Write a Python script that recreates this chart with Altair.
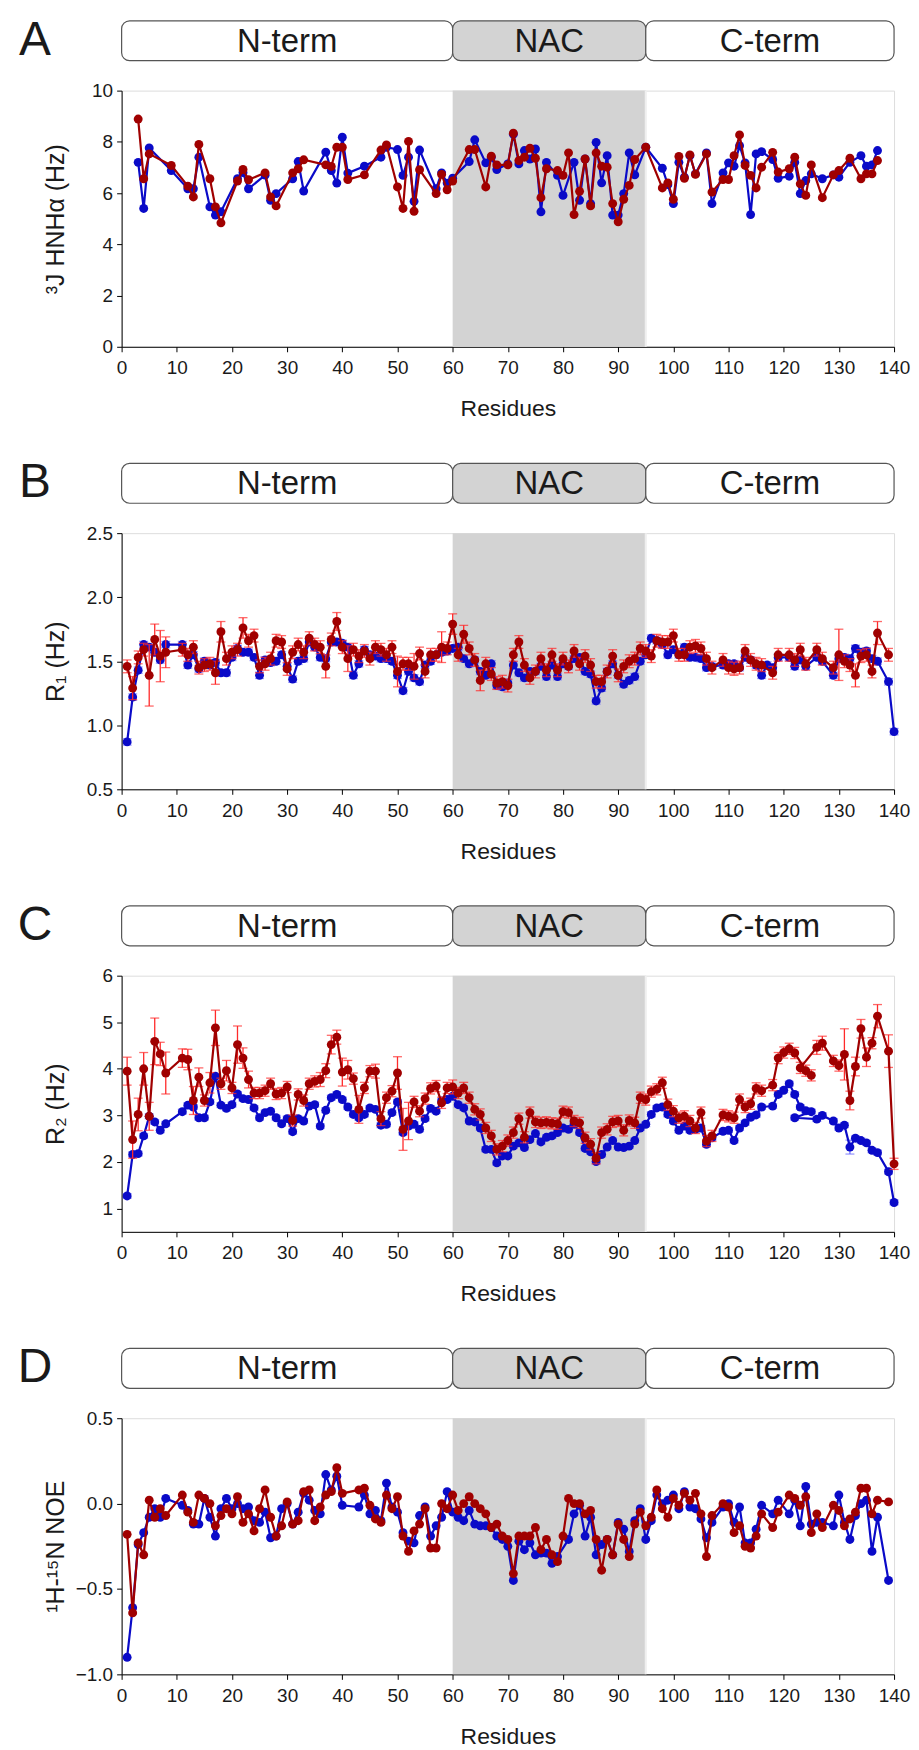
import altair as alt
import pandas as pd

# ---------------- data ----------------
domain_names = ["N-term", "NAC", "C-term"]
domain_start = [0, 60, 95]
domain_end = [60, 95, 140]
domain_fill = ["#ffffff", "#d3d3d3", "#ffffff"]
nac_region = [60, 95]
x_ticks = list(range(0, 141, 10))

# Panel A: 3J HNHa (Hz)
a_blue = [(3,7.2),(4,5.4),(5,7.76),(9,6.88),(12,6.17),(13,6.17),(14,7.4),(16,5.46),(17,5.14),(18,5.27),
          (21,6.56),(22,6.8),(23,6.17),(26,6.7),(27,5.72),(28,5.98),(31,6.56),(32,7.23),(33,6.08),(37,7.6),
          (38,6.88),(39,6.39),(40,8.18),(41,6.78),(44,7.05),(47,7.4),(48,7.79),(50,7.7),(51,6.69),(52,7.4),
          (53,5.68),(54,7.68),(57,6.17),(58,6.79),(59,6.39),(60,6.58),(63,7.23),(64,8.08),(66,7.18),(67,7.4),
          (68,6.92),(70,7.14),(71,8.3),(72,7.14),(73,7.66),(74,7.33),(75,7.72),(76,5.27),(77,7.2),(79,6.69),
          (80,5.91),(82,7.2),(83,5.72),(84,7.33),(85,5.59),(86,7.98),(87,6.4),(88,7.46),(89,5.14),(90,5.14),
          (91,5.98),(92,7.57),(93,6.71),(95,7.79),(98,6.97),(99,6.33),(100,5.59),(101,7.2),(102,6.62),(103,7.46),
          (104,6.75),(106,7.57),(107,5.59),(109,6.79),(110,7.18),(111,7.05),(112,7.85),(113,7.18),(114,5.16),
          (115,7.53),(116,7.62),(118,7.31),(119,6.58),(121,6.66),(122,7.2),(123,5.98),(124,6.49),(125,6.75),
          (127,6.56),(129,6.71),(130,6.62),(132,7.2),(134,7.46),(135,7.05),(136,7.1),(137,7.66)]
a_red = [(3,8.89),(4,6.56),(5,7.53),(9,7.08),(12,6.27),(13,5.85),(14,7.9),(16,6.56),(17,5.46),(18,4.84),
         (21,6.47),(22,6.92),(23,6.52),(26,6.79),(27,5.85),(28,5.5),(31,6.79),(32,6.95),(33,7.3),(37,7.1),
         (38,7.04),(39,7.79),(40,7.79),(41,6.53),(44,6.71),(47,7.68),(48,7.88),(50,6.24),(51,5.4),(52,8.02),
         (53,5.29),(54,6.91),(57,5.98),(58,6.73),(59,6.13),(60,6.47),(63,7.7),(64,7.7),(66,6.24),(67,7.44),
         (68,7.1),(70,7.1),(71,8.34),(72,7.27),(73,7.4),(74,7.75),(75,7.36),(76,5.82),(77,6.95),(79,6.88),
         (80,6.69),(81,7.57),(82,5.16),(83,6.07),(84,7.33),(85,5.5),(86,7.57),(87,7.05),(88,7.01),(89,5.59),
         (90,4.88),(91,5.76),(92,6.3),(93,7.31),(95,7.79),(98,6.2),(99,6.4),(100,5.76),(101,7.43),(102,6.58),
         (103,7.49),(104,6.73),(106,7.53),(107,6.04),(109,6.53),(110,6.53),(111,7.46),(112,8.27),(113,7.08),
         (114,6.69),(115,6.2),(116,7.01),(118,7.59),(119,6.82),(121,6.95),(122,7.4),(123,6.36),(124,5.91),
         (125,7.1),(127,5.82),(129,6.71),(130,6.88),(132,7.36),(134,6.56),(135,6.75),(136,6.75),(137,7.27)]

# Panel B: R1 (Hz)
b_blue = [(1,0.87),(2,1.22),(3,1.43),(4,1.63),(5,1.61),(6,1.57),(7,1.51),(8,1.63),(11,1.63),(12,1.47),
          (13,1.55),(14,1.44),(15,1.50),(16,1.47),(17,1.49),(18,1.41),(19,1.41),(20,1.53),(21,1.60),(22,1.57),
          (23,1.57),(24,1.53),(25,1.39),(26,1.51),(27,1.49),(28,1.50),(29,1.55),(30,1.46),(31,1.36),(32,1.50),
          (33,1.52),(34,1.65),(35,1.61),(36,1.53),(37,1.52),(38,1.65),(39,1.65),(40,1.64),(41,1.61),(42,1.39),
          (43,1.48),(44,1.59),(45,1.55),(46,1.54),(47,1.52),(48,1.52),(49,1.50),(50,1.39),(51,1.27),(52,1.42),
          (53,1.37),(54,1.34),(55,1.47),(56,1.50),(57,1.55),(58,1.57),(59,1.58),(60,1.60),(61,1.61),(62,1.52),
          (63,1.48),(64,1.51),(65,1.42),(66,1.39),(67,1.48),(68,1.31),(69,1.30),(70,1.33),(71,1.47),(72,1.41),
          (73,1.37),(74,1.42),(75,1.42),(76,1.46),(77,1.38),(78,1.47),(79,1.38),(80,1.48),(81,1.46),(82,1.52),
          (83,1.53),(84,1.42),(85,1.40),(86,1.19),(87,1.29),(88,1.42),(89,1.48),(90,1.39),(91,1.32),(92,1.35),
          (93,1.38),(94,1.50),(95,1.55),(96,1.68),(97,1.66),(98,1.63),(99,1.55),(100,1.59),(101,1.55),(102,1.61),
          (103,1.53),(104,1.53),(105,1.52),(106,1.45),(107,1.46),(109,1.47),(110,1.48),(111,1.48),(112,1.45),
          (113,1.53),(114,1.51),(115,1.47),(116,1.39),(117,1.47),(118,1.45),(119,1.53),(121,1.53),(122,1.46),
          (123,1.51),(124,1.46),(126,1.53),(127,1.50),(129,1.39),(130,1.52),(131,1.53),(132,1.52),(133,1.60),
          (134,1.57),(135,1.58),(136,1.52),(137,1.50),(139,1.34),(140,0.95)]
b_red = [(1,1.46),(2,1.29),(3,1.53),(4,1.59),(5,1.39),(6,1.67),(7,1.54),(8,1.57),(11,1.59),(12,1.55),
         (13,1.61),(14,1.45),(15,1.47),(16,1.48),(17,1.41),(18,1.73),(19,1.52),(20,1.57),(21,1.59),(22,1.76),
         (23,1.66),(24,1.70),(25,1.46),(26,1.48),(27,1.52),(28,1.66),(29,1.65),(30,1.44),(31,1.57),(32,1.63),
         (33,1.57),(34,1.68),(35,1.63),(36,1.61),(37,1.46),(38,1.67),(39,1.81),(40,1.61),(41,1.52),(42,1.59),
         (43,1.54),(44,1.58),(45,1.52),(46,1.61),(47,1.59),(48,1.55),(49,1.61),(50,1.42),(51,1.48),(52,1.48),
         (53,1.46),(54,1.56),(55,1.42),(56,1.55),(57,1.55),(58,1.61),(59,1.60),(60,1.79),(61,1.55),(62,1.71),
         (63,1.60),(64,1.51),(65,1.35),(66,1.48),(67,1.40),(68,1.33),(69,1.34),(70,1.31),(71,1.55),(72,1.65),
         (73,1.47),(74,1.37),(75,1.42),(76,1.52),(77,1.43),(78,1.55),(79,1.43),(80,1.52),(81,1.46),(82,1.58),
         (83,1.48),(84,1.54),(85,1.47),(86,1.34),(87,1.34),(88,1.42),(89,1.54),(90,1.39),(91,1.46),(92,1.50),
         (93,1.52),(94,1.60),(95,1.58),(96,1.54),(97,1.66),(98,1.65),(99,1.65),(100,1.70),(101,1.55),(102,1.55),
         (103,1.61),(104,1.62),(105,1.60),(106,1.52),(107,1.45),(109,1.51),(110,1.45),(111,1.44),(112,1.45),
         (113,1.58),(114,1.51),(115,1.48),(116,1.47),(118,1.41),(119,1.55),(121,1.55),(122,1.51),(123,1.59),
         (124,1.48),(126,1.59),(127,1.52),(129,1.45),(130,1.55),(131,1.50),(132,1.47),(133,1.39),(134,1.54),
         (135,1.55),(136,1.42),(137,1.72),(139,1.55)]
b_blue_err_default = 0.025
b_red_err_default = 0.05
b_red_err = {1:0.05,2:0.09,5:0.24,6:0.12,7:0.2,8:0.12,17:0.09,18:0.08,22:0.08,37:0.09,39:0.07,41:0.1,
             50:0.12,53:0.1,58:0.12,60:0.08,62:0.07,65:0.08,130:0.2,133:0.09,137:0.09}

# Panel C: R2 (Hz)
c_blue = [(1,1.27),(2,2.16),(3,2.18),(4,2.56),(5,2.98),(6,2.86),(7,2.68),(8,2.82),(11,3.08),(12,3.22),
          (13,3.18),(14,2.95),(15,2.95),(16,3.29),(17,3.84),(18,3.22),(19,3.15),(20,3.23),(21,3.46),(22,3.36),
          (23,3.34),(24,3.16),(25,2.95),(26,3.06),(27,3.09),(28,2.95),(29,2.82),(30,2.93),(31,2.65),(32,2.93),
          (33,2.88),(34,3.20),(35,3.23),(36,2.77),(37,3.11),(38,3.38),(39,3.45),(40,3.34),(41,3.18),(42,3.02),
          (43,2.95),(44,3.02),(45,3.16),(46,3.13),(47,2.79),(48,2.81),(49,3.06),(50,3.29),(51,2.63),(52,2.77),
          (53,2.81),(54,2.70),(55,2.93),(56,3.15),(57,3.09),(58,3.31),(59,3.34),(60,3.41),(61,3.23),(62,3.16),
          (63,2.88),(64,2.86),(65,2.73),(66,2.27),(67,2.27),(68,1.98),(69,2.13),(70,2.13),(71,2.34),(72,2.41),
          (73,2.31),(74,2.48),(75,2.61),(76,2.43),(77,2.53),(78,2.56),(79,2.63),(80,2.73),(81,2.70),(82,2.81),
          (83,2.63),(84,2.29),(85,2.22),(86,2.01),(87,2.16),(88,2.32),(89,2.46),(90,2.32),(91,2.31),(92,2.34),
          (93,2.46),(94,2.73),(95,2.81),(96,3.02),(97,3.16),(98,3.18),(99,3.02),(100,2.88),(101,2.68),(102,2.77),
          (103,2.68),(104,2.70),(105,2.73),(106,2.38),(107,2.52),(109,2.66),(110,2.68),(111,2.46),(112,2.73),
          (113,2.84),(114,2.96),(115,3.01),(116,3.18),(118,3.20),(119,3.45),(120,3.54),(121,3.68),(122,3.45),
          (123,3.18),(124,3.10),(125,3.08),(122,2.95),(126,2.92),(127,3.0),(129,2.88),(130,2.73),(131,2.79),
          (132,2.32),(133,2.51),(134,2.46),(135,2.41),(136,2.25),(137,2.20),(139,1.79),(140,1.13)]
c_red = [(1,3.95),(2,2.48),(3,3.02),(4,4.0),(5,2.98),(6,4.59),(7,4.32),(8,3.91),(11,4.23),(12,4.20),
         (13,3.32),(14,3.82),(15,3.32),(16,3.70),(17,4.88),(18,3.68),(19,3.96),(20,3.59),(21,4.52),(22,4.23),
         (23,3.77),(24,3.48),(25,3.48),(26,3.53),(27,3.68),(28,3.46),(29,3.48),(30,3.61),(31,2.89),(32,3.45),
         (33,3.32),(34,3.68),(35,3.73),(36,3.77),(37,3.96),(38,4.52),(39,4.68),(40,3.93),(41,3.98),(42,3.79),
         (43,3.13),(44,3.59),(45,3.95),(46,3.95),(47,2.93),(48,3.38),(49,3.52),(50,3.91),(51,2.70),(52,2.88),
         (53,3.29),(54,3.09),(55,3.36),(56,3.58),(57,3.63),(58,3.27),(59,3.59),(60,3.61),(61,3.48),(62,3.59),
         (63,3.38),(64,3.13),(65,3.02),(66,2.73),(67,2.56),(68,2.27),(69,2.34),(70,2.46),(71,2.63),(72,2.93),
         (73,2.53),(74,3.06),(75,2.86),(76,2.84),(77,2.85),(78,2.83),(79,2.82),(80,3.08),(81,3.06),(82,2.88),
         (83,2.84),(84,2.52),(85,2.38),(86,2.08),(87,2.63),(88,2.70),(89,2.86),(90,2.88),(91,2.68),(92,2.89),
         (93,2.84),(94,3.38),(95,3.34),(96,3.51),(97,3.56),(98,3.70),(99,3.23),(100,3.09),(101,2.95),(102,2.98),
         (103,2.88),(104,2.73),(105,3.06),(106,2.45),(107,2.56),(109,3.01),(110,2.98),(111,2.95),(112,3.34),
         (113,3.18),(114,3.25),(115,3.58),(116,3.53),(118,3.65),(119,4.23),(120,4.35),(121,4.43),(122,4.34),
         (124,3.96),(125,3.86),(123,4.02),(126,4.46),(127,4.55),(129,4.17),(130,4.07),(131,4.31),(132,3.32),
         (133,4.05),(134,4.86),(135,4.25),(136,4.55),(137,5.13),(139,4.38),(140,1.96)]
c_blue_err_default = 0.05
c_blue_err = {132:0.15}
c_red_err_default = 0.12
c_red_err = {1:0.3,2:0.4,3:0.35,4:0.35,5:0.3,6:0.5,7:0.25,8:0.45,11:0.2,12:0.22,13:0.3,14:0.2,16:0.22,
             17:0.38,19:0.22,21:0.4,22:0.22,23:0.18,36:0.15,37:0.15,38:0.2,39:0.15,40:0.3,41:0.2,43:0.3,
             46:0.15,47:0.15,50:0.35,51:0.45,52:0.4,60:0.15,126:0.15,127:0.15,131:0.55,132:0.2,133:0.2,
             134:0.2,135:0.2,137:0.25,139:0.35}

# Panel D: 1H-15N NOE
d_blue = [(1,-0.90),(2,-0.61),(3,-0.24),(4,-0.17),(5,-0.08),(6,-0.03),(7,-0.08),(8,0.03),(11,-0.01),(12,-0.04),
          (13,-0.12),(14,-0.12),(15,0.03),(16,-0.08),(17,-0.19),(18,-0.03),(19,0.03),(20,-0.03),(21,0.0),(22,-0.03),
          (23,-0.02),(24,-0.10),(25,-0.11),(26,-0.05),(27,-0.20),(28,-0.19),(29,-0.03),(30,0.0),(31,-0.12),(32,-0.05),
          (33,0.06),(34,0.02),(35,-0.04),(36,-0.06),(37,0.17),(38,0.08),(39,0.16),(40,-0.01),(43,-0.02),(44,0.05),
          (45,-0.06),(46,-0.04),(47,-0.10),(48,0.12),(49,-0.02),(50,-0.05),(51,-0.17),(52,-0.22),(53,-0.23),(54,-0.07),
          (55,-0.02),(56,-0.19),(57,-0.13),(58,-0.08),(59,0.07),(60,-0.05),(61,-0.08),(62,-0.10),(63,-0.04),(64,-0.12),
          (65,-0.13),(66,-0.13),(67,-0.14),(68,-0.19),(69,-0.21),(70,-0.25),(71,-0.45),(72,-0.22),(73,-0.27),(74,-0.23),
          (75,-0.30),(76,-0.29),(77,-0.29),(78,-0.35),(79,-0.31),(81,-0.21),(82,-0.06),(83,-0.01),(84,-0.19),(85,-0.08),
          (86,-0.30),(87,-0.24),(88,-0.21),(89,-0.30),(90,-0.11),(91,-0.15),(92,-0.28),(93,-0.10),(94,-0.03),(95,-0.21),
          (96,-0.10),(97,0.05),(98,0.0),(99,0.02),(100,0.05),(101,-0.03),(102,0.07),(103,-0.02),(104,-0.03),(105,-0.09),
          (106,-0.20),(107,-0.11),(109,-0.02),(110,0.0),(111,-0.11),(112,-0.02),(113,-0.23),(114,-0.23),(115,-0.15),
          (116,-0.01),(118,-0.06),(119,0.02),(121,-0.06),(122,0.02),(123,-0.13),(124,0.10),(125,-0.12),(126,-0.11),
          (127,-0.11),(129,-0.13),(130,0.05),(131,-0.11),(132,-0.21),(133,-0.07),(134,0.0),(135,0.02),(136,-0.28),
          (137,-0.08),(139,-0.45)]
d_red = [(1,-0.18),(2,-0.64),(3,-0.23),(4,-0.30),(5,0.02),(6,-0.08),(7,-0.03),(8,-0.07),(11,0.05),(12,-0.05),
         (13,-0.11),(14,0.05),(15,0.03),(16,0.0),(17,-0.13),(18,-0.07),(19,-0.03),(20,-0.06),(21,0.04),(22,-0.11),
         (23,-0.06),(24,-0.16),(25,-0.03),(26,0.08),(27,-0.08),(28,-0.19),(29,-0.13),(30,0.01),(31,-0.12),(32,-0.10),
         (33,0.07),(34,0.08),(35,-0.10),(36,-0.02),(37,0.05),(38,0.07),(39,0.21),(40,0.06),(43,0.08),(44,0.09),
         (45,-0.01),(46,-0.09),(47,-0.11),(48,0.05),(49,-0.03),(50,0.04),(51,-0.19),(52,-0.28),(53,-0.16),(54,-0.12),
         (55,-0.03),(56,-0.26),(57,-0.26),(58,0.0),(59,-0.03),(60,0.05),(61,-0.04),(62,0.0),(63,0.04),(64,0.0),
         (65,-0.03),(66,-0.06),(67,-0.14),(68,-0.12),(69,-0.19),(70,-0.21),(71,-0.41),(72,-0.19),(73,-0.19),(74,-0.19),
         (75,-0.14),(76,-0.27),(77,-0.21),(78,-0.30),(79,-0.34),(80,-0.19),(81,0.03),(82,0.0),(83,0.0),(84,-0.06),
         (85,-0.04),(86,-0.21),(87,-0.39),(88,-0.21),(89,-0.30),(90,-0.12),(91,-0.21),(92,-0.31),(93,-0.12),(94,-0.05),
         (95,-0.13),(96,-0.08),(97,0.08),(98,-0.03),(99,-0.08),(100,0.03),(101,-0.01),(102,0.06),(103,0.02),(104,0.06),
         (105,-0.06),(106,-0.31),(107,-0.07),(109,0.0),(110,-0.02),(111,-0.17),(112,-0.13),(113,-0.25),(114,-0.26),
         (115,-0.19),(116,-0.06),(118,-0.14),(119,-0.05),(121,0.05),(122,0.03),(123,-0.01),(124,0.04),(125,-0.17),
         (126,-0.06),(127,-0.14),(129,-0.01),(130,-0.04),(131,-0.13),(132,-0.09),(133,-0.05),(134,0.09),(135,0.09),
         (136,-0.06),(137,0.02),(139,0.01)]

# ---------------- style ----------------
FONT = "Liberation Sans, Arial, Helvetica, sans-serif"
PW = 775
PH = 257
HDR_H = 40
BLUE = "#0a0ac8"
RED = "#a00000"
RED_ERR = "#ff2a2a"
BLUE_ERR = "#7070ff"
TXT = "#1a1a1a"
TICK_FS = 19

xs = alt.Scale(domain=[0, 140], nice=False, zero=False)

dom_df = pd.DataFrame({"name": domain_names, "start": domain_start, "end": domain_end,
                       "fill": domain_fill})
dom_df["mid"] = (dom_df["start"] + dom_df["end"]) / 2
nac_df = pd.DataFrame({"start": [nac_region[0]], "end": [nac_region[1]]})


def x_axis():
    return alt.Axis(values=x_ticks, format="d", title="Residues", labelFontSize=TICK_FS, titleFontSize=23,
                    tickSize=5, labelPadding=7, titlePadding=20, grid=False, domainColor="black",
                    tickColor="black", labelColor=TXT, titleColor=TXT, titleFontWeight="normal",
                    labelFont=FONT, titleFont=FONT, labelFlush=False)


def make_header(letter):
    base = alt.Chart(dom_df)
    rects = base.mark_rect(cornerRadius=8, stroke="#555555", strokeWidth=1.2).encode(
        x=alt.X("start:Q", scale=xs, axis=None), x2="end:Q",
        y=alt.value(0), y2=alt.value(HDR_H),
        fill=alt.Fill("fill:N", scale=None, legend=None))
    texts = base.mark_text(font=FONT, fontSize=33, color=TXT).encode(
        x=alt.X("mid:Q", scale=xs, axis=None), y=alt.value(HDR_H / 2 + 1), text="name:N")
    lt = alt.Chart(pd.DataFrame({"t": [letter]})).mark_text(font=FONT, fontSize=48, color=TXT).encode(
        x=alt.value(-87), y=alt.value(HDR_H / 2), text="t:N")
    return alt.layer(rects, texts, lt).properties(
        width=PW, height=HDR_H, view=alt.ViewBackground(stroke="transparent"))


def series_df(pairs, err_default=None, err_special=None):
    df = pd.DataFrame(pairs, columns=["res", "val"])
    df["ord"] = range(len(df))
    if err_default is not None:
        sp = err_special or {}
        e = [sp.get(int(r), err_default) for r in df["res"]]
        df["lo"] = df["val"] - e
        df["hi"] = df["val"] + e
    return df


def make_plot(blue, red, ydom, yvals, yfmt, ytitle, berr=None, rerr=None):
    ys = alt.Scale(domain=ydom, nice=False, zero=False)
    yax = alt.Axis(values=yvals, format=yfmt, title=ytitle, labelFontSize=TICK_FS, titleFontSize=25,
                   tickSize=5, labelPadding=4, grid=False, domainColor="black", tickColor="black",
                   labelColor=TXT, titleColor=TXT, titleFontWeight="normal", labelFont=FONT,
                   titleFont=FONT, titleX=-66, titleY=PH / 2, titleAngle=-90, titleBaseline="middle",
                   titleAlign="center", labelFlush=False)
    X = lambda f: alt.X(f, scale=xs, axis=x_axis())
    Y = lambda f: alt.Y(f, scale=ys, axis=yax)

    layers = []
    layers.append(alt.Chart(nac_df).mark_rect(color="#d3d3d3").encode(
        x=X("start:Q"), x2="end:Q", y=alt.value(0), y2=alt.value(PH)))
    layers.append(alt.Chart(nac_df).mark_rule(color="#efefef", strokeWidth=2).encode(
        x=X("end:Q"), y=alt.value(0), y2=alt.value(PH)))

    def add_series(df, color, ecolor, has_err):
        if has_err:
            c = alt.Chart(df)
            layers.append(c.mark_rule(color=ecolor, strokeWidth=1.3).encode(
                x=X("res:Q"), y=Y("lo:Q"), y2="hi:Q"))
            layers.append(c.mark_tick(color=ecolor, orient="horizontal", size=9, thickness=1.3).encode(
                x=X("res:Q"), y=Y("lo:Q")))
            layers.append(c.mark_tick(color=ecolor, orient="horizontal", size=9, thickness=1.3).encode(
                x=X("res:Q"), y=Y("hi:Q")))
        c = alt.Chart(df)
        layers.append(c.mark_line(color=color, strokeWidth=2.2).encode(
            x=X("res:Q"), y=Y("val:Q"), order="ord:Q"))
        layers.append(c.mark_circle(color=color, size=80, opacity=1).encode(
            x=X("res:Q"), y=Y("val:Q")))

    add_series(blue, BLUE, BLUE_ERR, berr)
    add_series(red, RED, RED_ERR, rerr)
    return alt.layer(*layers).properties(width=PW, height=PH)


pA = make_plot(series_df(a_blue), series_df(a_red), [0, 10], [0, 2, 4, 6, 8, 10], "d", "³J HNHα (Hz)")
pB = make_plot(series_df(b_blue, b_blue_err_default, {}), series_df(b_red, b_red_err_default, b_red_err),
               [0.5, 2.5], [0.5, 1.0, 1.5, 2.0, 2.5], ".1f", "R₁ (Hz)", True, True)
pC = make_plot(series_df(c_blue, c_blue_err_default, c_blue_err), series_df(c_red, c_red_err_default, c_red_err),
               [0.5, 6], [1, 2, 3, 4, 5, 6], "d", "R₂ (Hz)", True, True)
pD = make_plot(series_df(d_blue), series_df(d_red), [-1.0, 0.5], [-1.0, -0.5, 0.0, 0.5], ".1f", "¹H-¹⁵N NOE")

panels = []
for letter, p in zip(["A", "B", "C", "D"], [pA, pB, pC, pD]):
    panels.append(alt.vconcat(make_header(letter), p, spacing=15))

chart = alt.vconcat(*panels, spacing=37).properties(
    padding={"left": 9, "top": 5, "right": 0, "bottom": 0}
).configure_view(stroke="#333333", strokeWidth=1.2).configure(font=FONT)

chart.save("out.html", embed_options={"renderer": "svg", "actions": False})
